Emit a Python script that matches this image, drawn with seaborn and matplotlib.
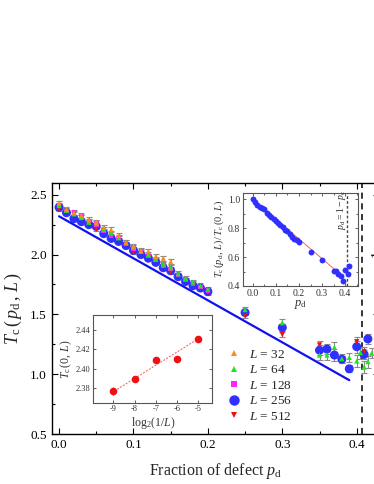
import matplotlib
matplotlib.use("Agg")
import numpy as np
import pandas as pd
import matplotlib.pyplot as plt
from matplotlib.lines import Line2D
from matplotlib.ticker import MultipleLocator
import seaborn as sns

# =========================
# DATA
# =========================

# L = 256 (blue circles)
p_256 = [0.00, 0.01, 0.02, 0.03, 0.04, 0.05, 0.06, 0.07, 0.08, 0.09, 0.10,
         0.11, 0.12, 0.13, 0.14, 0.15, 0.16, 0.17, 0.18, 0.19, 0.20,
         0.25, 0.30, 0.35, 0.36, 0.37, 0.38, 0.39, 0.40, 0.41, 0.415]
T_256 = [2.395, 2.35, 2.30, 2.275, 2.25, 2.235, 2.175, 2.135, 2.11, 2.075, 2.035,
         2.00, 1.97, 1.935, 1.89, 1.865, 1.815, 1.775, 1.74, 1.72, 1.69,
         1.515, 1.39, 1.20, 1.21, 1.16, 1.125, 1.045, 1.23, 1.165, 1.295]
e_256 = [0.015, 0.015, 0.015, 0.015, 0.015, 0.015, 0.015, 0.015, 0.015, 0.015, 0.015,
         0.015, 0.015, 0.015, 0.015, 0.015, 0.015, 0.015, 0.015, 0.015, 0.015,
         0.02, 0.03, 0.04, 0.04, 0.05, 0.03, 0.03, 0.05, 0.04, 0.04]

# L = 512 (red down triangles)
p_512 = [0.00, 0.05, 0.10, 0.15, 0.20, 0.25, 0.30, 0.35, 0.40, 0.41]
T_512 = [2.377, 2.21, 2.017, 1.85, 1.677, 1.487, 1.33, 1.245, 1.272, 1.19]
e_512 = [0.01, 0.015, 0.015, 0.015, 0.015, 0.02, 0.02, 0.03, 0.04, 0.04]

# L = 128 (magenta squares)
p_128 = [0.00, 0.01, 0.02, 0.03, 0.04, 0.05, 0.06, 0.07, 0.08, 0.09, 0.10,
         0.11, 0.12, 0.13, 0.14, 0.15, 0.16, 0.17, 0.18, 0.19, 0.20]
T_128 = [2.409, 2.365, 2.35, 2.32, 2.28, 2.25, 2.20, 2.16, 2.14, 2.09, 2.05,
         2.02, 1.99, 1.955, 1.91, 1.88, 1.83, 1.79, 1.76, 1.73, 1.70]
e_128 = [0.015] * 21

# L = 64 (green triangles)
p_64 = [0.00, 0.01, 0.02, 0.03, 0.04, 0.05, 0.06, 0.07, 0.08, 0.09, 0.10,
        0.11, 0.12, 0.13, 0.14, 0.15, 0.16, 0.17, 0.18, 0.19, 0.20,
        0.25, 0.30, 0.35, 0.36, 0.37, 0.38, 0.39, 0.40, 0.405, 0.41, 0.415, 0.42]
T_64 = [2.41, 2.37, 2.34, 2.31, 2.27, 2.26, 2.21, 2.18, 2.14, 2.10, 2.06,
        2.03, 2.00, 1.96, 1.92, 1.89, 1.84, 1.80, 1.77, 1.74, 1.71,
        1.54, 1.43, 1.16, 1.16, 1.225, 1.13, 1.14, 1.11, 1.18, 1.06, 1.105, 1.175]
e_64 = [0.02] * 21 + [0.02, 0.03, 0.04, 0.04, 0.04, 0.04, 0.04, 0.05, 0.05, 0.05, 0.05, 0.04]

# L = 32 (orange triangles)
p_32 = [0.00, 0.01, 0.02, 0.03, 0.04, 0.05, 0.06, 0.07, 0.08, 0.09, 0.10,
        0.11, 0.12, 0.13, 0.14, 0.15]
T_32 = [2.43, 2.38, 2.35, 2.327, 2.29, 2.27, 2.229, 2.207, 2.16, 2.10, 2.07,
        2.031, 2.026, 1.984, 1.97, 1.94]
e_32 = [0.02] * 16

# straight guide line in the main panel
guide_p = [0.0, 0.39]
guide_T = [2.32, 0.95]

# percolation threshold line p_d = 1 - p_c
pd_crit = 0.4073

# lower-left inset: T_c(0, L) vs log2(1/L)
log_invL = [-9, -8, -7, -6, -5]
Tc0 = [2.377, 2.389, 2.409, 2.410, 2.430]
Tc0_err = [0.004, 0.001, 0.002, 0.002, 0.001]
fit_x = [-9.1, -4.9]
fit_y = [2.375, 2.432]

# upper-right inset fit line
ratio_fit_p = [0.0, 0.39]
ratio_fit_r = [1.0, 0.465]

# =========================
# STYLE
# =========================

sns.set_theme(style="ticks")
plt.rcParams['font.family'] = ['Liberation Serif', 'DejaVu Serif']
plt.rcParams['mathtext.fontset'] = 'custom'
plt.rcParams['mathtext.rm'] = 'Liberation Serif'
plt.rcParams['mathtext.it'] = 'Liberation Serif:italic'
plt.rcParams['mathtext.bf'] = 'Liberation Serif:bold'
plt.rcParams['xtick.direction'] = 'in'
plt.rcParams['ytick.direction'] = 'in'
plt.rcParams['axes.linewidth'] = 1.0

colors = {32: '#ff8c1a', 64: '#1ee61e', 128: '#ff22ff', 256: '#2f2fff', 512: '#ee1111'}
markers = {32: '^', 64: '^', 128: 's', 256: 'o', 512: 'v'}
sizes = {32: 14, 64: 14, 128: 11, 256: 42, 512: 14}

frames = []
for L, p, T, e in [(256, p_256, T_256, e_256), (512, p_512, T_512, e_512),
                   (128, p_128, T_128, e_128), (64, p_64, T_64, e_64),
                   (32, p_32, T_32, e_32)]:
    frames.append(pd.DataFrame({'p': p, 'T': T, 'err': e, 'L': L}))
df = pd.concat(frames, ignore_index=True)

fig = plt.figure(figsize=(3.74, 4.84), dpi=100)

# =========================
# MAIN PANEL
# =========================

ax = fig.add_axes([0.138, 0.1033, 0.8755, 0.519])
ax.set_facecolor('white')
for sp in ax.spines.values():
    sp.set_color('black')

ax.errorbar(df['p'], df['T'], yerr=df['err'], fmt='none', ecolor='#8a8a8a',
            elinewidth=0.8, capsize=2, capthick=0.8, zorder=2)
sns.scatterplot(data=df, x='p', y='T', hue='L', style='L', size='L',
                palette=colors, markers=markers, sizes=sizes,
                linewidth=0, legend=False, ax=ax, zorder=3)
sns.lineplot(x=guide_p, y=guide_T, color='#1010f0', linewidth=1.6, ax=ax, zorder=4)
ax.axvline(pd_crit, color='black', linestyle=(0, (4, 3)), linewidth=1.1, zorder=1)
# label of the threshold line, mostly outside the visible area (as in the original)
ax.text(0.4185, 2.0, r"$p_{\rm d} = 1 - p_{\rm c}$", rotation=90, ha='left',
        va='center', fontsize=10, color='black')

ax.set_xlim(-0.01, 0.43)
ax.set_ylim(0.5, 2.6)
ax.xaxis.set_major_locator(MultipleLocator(0.1))
ax.xaxis.set_minor_locator(MultipleLocator(0.05))
ax.yaxis.set_major_locator(MultipleLocator(0.5))
ax.yaxis.set_minor_locator(MultipleLocator(0.25))
ax.xaxis.set_major_formatter(matplotlib.ticker.FormatStrFormatter('%.1f'))
ax.yaxis.set_major_formatter(matplotlib.ticker.FormatStrFormatter('%.1f'))
ax.tick_params(which='both', top=True, right=True, labelsize=9.5, colors='black')
ax.tick_params(which='major', length=4, width=0.8)
ax.tick_params(which='minor', length=2.5, width=0.8)
ax.set_xlabel(r"Fraction of defect $p_{\rm d}$", fontsize=11.5, labelpad=7)
ax.set_ylabel(r"$T_{\rm c}\,(\,p_{\rm d}\,,\,L\,)$", fontsize=13, labelpad=4)

handles = []
for L in [32, 64, 128, 256, 512]:
    handles.append(Line2D([], [], marker=markers[L], color=colors[L], linestyle='none',
                          markersize=7.5 if L == 256 else 4, markeredgewidth=0,
                          label=r"$L$ = %d" % L))
ax.legend(handles=handles, loc='upper left', bbox_to_anchor=(0.538, 0.340),
          frameon=False, fontsize=9.5, handlelength=1.0, handletextpad=0.6,
          labelspacing=0.25, borderpad=0, borderaxespad=0)

# =========================
# INSET: normalised T_c
# =========================

ax1 = fig.add_axes([0.649, 0.4091, 0.3083, 0.1928])
ax1.set_facecolor('white')
for sp in ax1.spines.values():
    sp.set_color('#555555')
    sp.set_linewidth(0.8)
ratio = np.array(T_256) / T_256[0]
sns.lineplot(x=ratio_fit_p, y=ratio_fit_r, color='#ff6060', linewidth=0.7, ax=ax1, zorder=2)
sns.scatterplot(x=p_256, y=ratio, color='#2f2fff', s=18, linewidth=0, ax=ax1, zorder=3)
ax1.axvline(pd_crit, color='#444444', linestyle=(0, (2, 1.5)), linewidth=1.0, zorder=1)
ax1.text(0.385, 0.925, r"$p_{\rm d} = 1 - p_{\rm c}$", rotation=90, ha='center',
         va='center', fontsize=7, color='#333333')
ax1.set_xlim(-0.043, 0.455)
ax1.set_ylim(0.4, 1.046)
ax1.xaxis.set_major_locator(MultipleLocator(0.1))
ax1.xaxis.set_minor_locator(MultipleLocator(0.05))
ax1.yaxis.set_major_locator(MultipleLocator(0.2))
ax1.yaxis.set_minor_locator(MultipleLocator(0.1))
ax1.xaxis.set_major_formatter(matplotlib.ticker.FormatStrFormatter('%.1f'))
ax1.yaxis.set_major_formatter(matplotlib.ticker.FormatStrFormatter('%.1f'))
ax1.tick_params(which='both', top=True, right=True, labelsize=7, colors='#444444',
                labelcolor='#333333', pad=2)
ax1.tick_params(which='major', length=2.5, width=0.6)
ax1.tick_params(which='minor', length=1.5, width=0.6)
ax1.set_xlabel(r"$p_{\rm d}$", fontsize=9, labelpad=0, color='#333333')
ax1.set_ylabel(r"$T_{\rm c}\,(p_{\rm d},\,L)\,/\,T_{\rm c}\,(0,\,L)$", fontsize=7.5,
               labelpad=1, color='#333333')

# =========================
# INSET: T_c(0, L)
# =========================

ax2 = fig.add_axes([0.2495, 0.168, 0.3182, 0.1812])
ax2.set_facecolor('white')
for sp in ax2.spines.values():
    sp.set_color('#555555')
    sp.set_linewidth(0.8)
sns.lineplot(x=fit_x, y=fit_y, color='#ff5050', linewidth=0.7, linestyle=(0, (2, 1.5)),
             ax=ax2, zorder=2)
ax2.errorbar(log_invL, Tc0, yerr=Tc0_err, fmt='none', ecolor='#aa0000',
             elinewidth=0.6, capsize=0, zorder=2)
sns.scatterplot(x=log_invL, y=Tc0, color='#ee1111', s=30, linewidth=0, ax=ax2, zorder=3)
ax2.set_xlim(-9.95, -4.34)
ax2.set_ylim(2.365, 2.455)
ax2.xaxis.set_major_locator(MultipleLocator(1))
ax2.yaxis.set_major_locator(MultipleLocator(0.02))
ax2.xaxis.set_major_formatter(matplotlib.ticker.FormatStrFormatter('%d'))
ax2.yaxis.set_major_formatter(matplotlib.ticker.FormatStrFormatter('%.2f'))
ax2.tick_params(which='both', top=True, right=True, labelsize=6, colors='#444444',
                labelcolor='#333333', pad=2)
ax2.tick_params(which='major', length=2.5, width=0.6)
ax2.set_xlabel(r"$\mathrm{log}_2(1/L)$", fontsize=8.5, labelpad=1, color='#333333')
ax2.set_ylabel(r"$T_{\rm c}\,(0,\,L)$", fontsize=8.5, labelpad=1, color='#333333')

fig.savefig("out.png", dpi=100, facecolor='white')
